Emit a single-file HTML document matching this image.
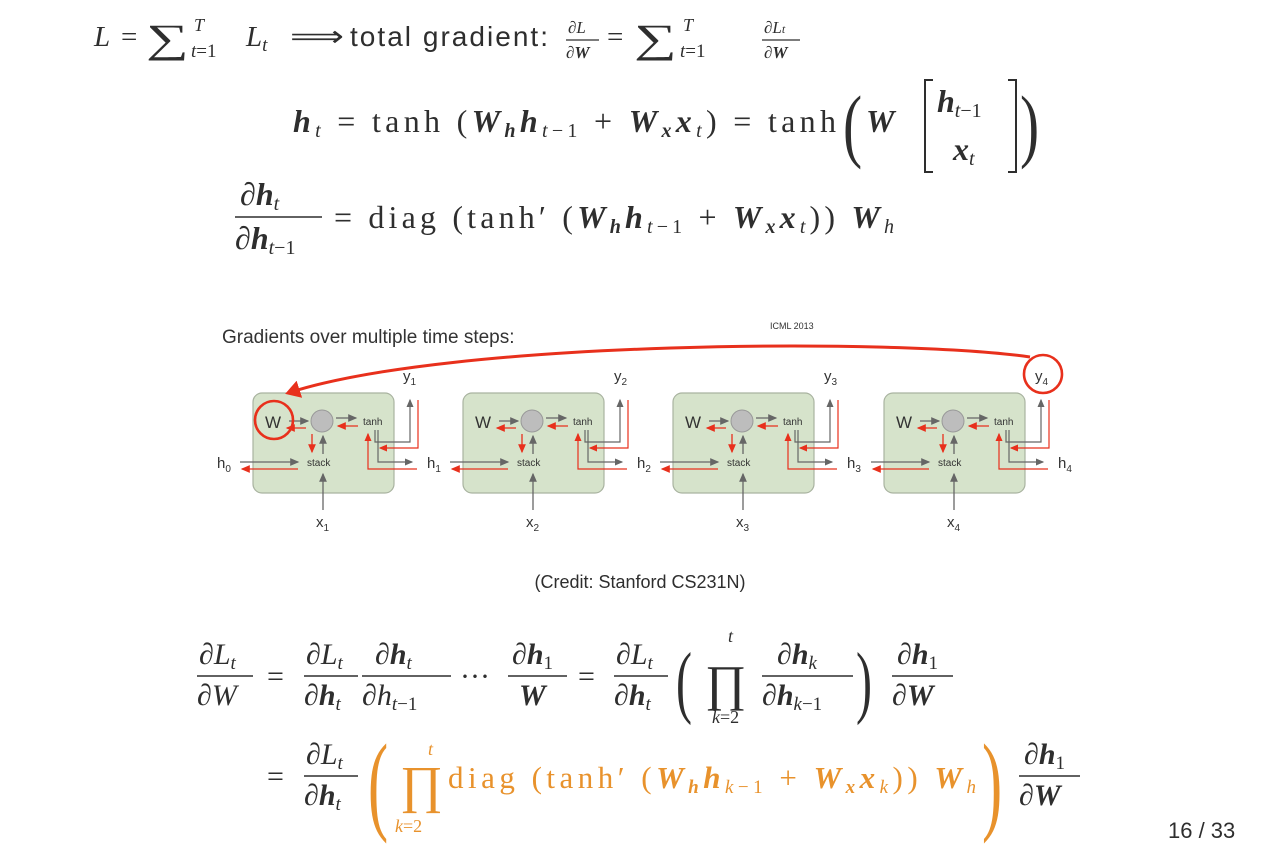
<!DOCTYPE html>
<html><head><meta charset="utf-8"><style>
html,body{margin:0;padding:0;background:#fff}
svg{display:block}
.m{font-family:"Liberation Serif",serif;fill:#2e2e2e}
.i{font-style:italic}
.b{font-weight:bold;font-style:italic}
.s{font-family:"Liberation Sans",sans-serif;fill:#2e2e2e}
.o{fill:#e8922c}
.d{font-family:"Liberation Sans",sans-serif;fill:#333}
</style></head><body>
<svg width="1271" height="848" viewBox="0 0 1271 848">
<g class="m" font-size="29">
 <text x="94" y="46" class="i">L</text>
 <text x="121" y="46">=</text>
 <text x="146" y="52" font-size="40" transform="translate(146 0) scale(1.5 1) translate(-146 0)">∑</text>
 <text x="194" y="31" font-size="18" class="i">T</text>
 <text x="191" y="57" font-size="19"><tspan class="i">t</tspan>=1</text>
 <text x="246" y="46"><tspan class="i">L</tspan><tspan font-size="19" class="i" dy="5">t</tspan></text>
 <text x="290" y="46" textLength="54" lengthAdjust="spacingAndGlyphs">⟹</text>
 <text x="350" y="46" class="s" font-size="28" textLength="198" lengthAdjust="spacing">total gradient:</text>
 <text x="568" y="33" font-size="17" class="i">∂L</text>
 <line x1="566" y1="40" x2="599" y2="40" stroke="#2e2e2e" stroke-width="1.2"/>
 <text x="566" y="58" font-size="17"><tspan>∂</tspan><tspan class="b">W</tspan></text>
 <text x="607" y="46">=</text>
 <text x="634" y="52" font-size="40" transform="translate(634 0) scale(1.5 1) translate(-634 0)">∑</text>
 <text x="683" y="31" font-size="18" class="i">T</text>
 <text x="680" y="57" font-size="19"><tspan class="i">t</tspan>=1</text>
 <text x="764" y="33" font-size="17"><tspan class="i">∂L</tspan><tspan font-size="12" class="i">t</tspan></text>
 <line x1="762" y1="40" x2="800" y2="40" stroke="#2e2e2e" stroke-width="1.2"/>
 <text x="764" y="58" font-size="17"><tspan>∂</tspan><tspan class="b">W</tspan></text>
</g>
<g class="m" font-size="32">
 <text x="293" y="132" textLength="543" lengthAdjust="spacing"><tspan class="b">h</tspan><tspan font-size="20" class="i" dy="5">t</tspan><tspan dy="-5"> = tanh (</tspan><tspan class="b">W</tspan><tspan class="b" font-size="20" dy="5">h</tspan><tspan class="b" dy="-5">h</tspan><tspan font-size="20" dy="5"><tspan class="i">t</tspan>−1</tspan><tspan dy="-5"> + </tspan><tspan class="b">W</tspan><tspan class="b" font-size="20" dy="5">x</tspan><tspan class="b" dy="-5">x</tspan><tspan font-size="20" class="i" dy="5">t</tspan><tspan dy="-5">) = tanh</tspan></text>
 <text x="843" y="152" font-size="82" transform="translate(843 0) scale(0.7 1) translate(-843 0)">(</text>
 <text x="866" y="132" class="b">W</text>
 <path d="M933 80 h-8 v92 h8 M1008 80 h8 v92 h-8" fill="none" stroke="#2e2e2e" stroke-width="2"/>
 <text x="937" y="112"><tspan class="b">h</tspan><tspan font-size="20" dy="5"><tspan class="i">t</tspan>−1</tspan></text>
 <text x="953" y="160"><tspan class="b">x</tspan><tspan font-size="20" class="i" dy="5">t</tspan></text>
 <text x="1020" y="152" font-size="82" transform="translate(1020 0) scale(0.7 1) translate(-1020 0)">)</text>
</g>
<g class="m" font-size="32">
 <text x="240" y="205"><tspan>∂</tspan><tspan class="b">h</tspan><tspan font-size="20" class="i" dy="5">t</tspan></text>
 <line x1="235" y1="217" x2="322" y2="217" stroke="#2e2e2e" stroke-width="1.4"/>
 <text x="235" y="249"><tspan>∂</tspan><tspan class="b">h</tspan><tspan font-size="20" dy="5"><tspan class="i">t</tspan>−1</tspan></text>
 <text x="334" y="228" textLength="560" lengthAdjust="spacing"><tspan>= diag (tanh′ (</tspan><tspan class="b">W</tspan><tspan class="b" font-size="20" dy="5">h</tspan><tspan class="b" dy="-5">h</tspan><tspan font-size="20" dy="5"><tspan class="i">t</tspan>−1</tspan><tspan dy="-5"> + </tspan><tspan class="b">W</tspan><tspan class="b" font-size="20" dy="5">x</tspan><tspan class="b" dy="-5">x</tspan><tspan font-size="20" class="i" dy="5">t</tspan><tspan dy="-5">)) </tspan><tspan class="b">W</tspan><tspan class="i" font-size="20" dy="5">h</tspan></text>
</g>

<g>
 <text x="222" y="343" class="d" font-size="19">Gradients over multiple time steps:</text>
 <text x="770" y="329" class="d" font-size="9">ICML 2013</text>
 <defs>
  <marker id="ag" markerWidth="8" markerHeight="8" refX="6" refY="3" orient="auto"><path d="M0,0 L7,3 L0,6z" fill="#666"/></marker>
  <marker id="ar" markerWidth="8" markerHeight="8" refX="6" refY="3" orient="auto"><path d="M0,0 L7,3 L0,6z" fill="#e8301c"/></marker>
  <marker id="abig" markerWidth="6" markerHeight="6" refX="4" refY="3" orient="auto"><path d="M0,0 L5,3 L0,6z" fill="#e8301c"/></marker>
 </defs>
 <g id="cell">
  <rect x="253" y="393" width="141" height="100" rx="9" fill="#d6e3cb" stroke="#a9b3a0" stroke-width="1.2"/>
  <text x="265" y="428" class="d" font-size="17">W</text>
  <line x1="289" y1="421" x2="308" y2="421" stroke="#666" stroke-width="1.3" marker-end="url(#ag)"/>
  <line x1="306" y1="428" x2="287" y2="428" stroke="#e8301c" stroke-width="1.3" marker-end="url(#ar)"/>
  <circle cx="322" cy="421" r="11" fill="#bdbdbd" stroke="#999"/>
  <line x1="336" y1="418" x2="356" y2="418" stroke="#666" stroke-width="1.3" marker-end="url(#ag)"/>
  <line x1="358" y1="426" x2="338" y2="426" stroke="#e8301c" stroke-width="1.3" marker-end="url(#ar)"/>
  <text x="363" y="425" class="d" font-size="10">tanh</text>
  <line x1="312" y1="434" x2="312" y2="452" stroke="#e8301c" stroke-width="1.3" marker-end="url(#ar)"/>
  <line x1="323" y1="454" x2="323" y2="436" stroke="#666" stroke-width="1.3" marker-end="url(#ag)"/>
  <text x="307" y="466" class="d" font-size="10">stack</text>
  <line x1="323" y1="510" x2="323" y2="474" stroke="#666" stroke-width="1.3" marker-end="url(#ag)"/>
  <line x1="240" y1="462" x2="298" y2="462" stroke="#666" stroke-width="1.3" marker-end="url(#ag)"/>
  <line x1="298" y1="469" x2="242" y2="469" stroke="#e8301c" stroke-width="1.3" marker-end="url(#ar)"/>
  <path d="M375 430 V442 H410 V400" fill="none" stroke="#666" stroke-width="1.2" marker-end="url(#ag)"/>
  <path d="M418 400 V448 H380" fill="none" stroke="#e8301c" stroke-width="1.2" marker-end="url(#ar)"/>
  <path d="M378 430 V462 H412" fill="none" stroke="#666" stroke-width="1.2" marker-end="url(#ag)"/>
  <path d="M417 469 H368 V434" fill="none" stroke="#e8301c" stroke-width="1.2" marker-end="url(#ar)"/>
 </g>
 <use href="#cell" x="210"/>
 <use href="#cell" x="420"/>
 <use href="#cell" x="631"/>
 <g class="d" font-size="15">
  <text x="217" y="468">h<tspan font-size="10" dy="4">0</tspan></text>
  <text x="427" y="468">h<tspan font-size="10" dy="4">1</tspan></text>
  <text x="637" y="468">h<tspan font-size="10" dy="4">2</tspan></text>
  <text x="847" y="468">h<tspan font-size="10" dy="4">3</tspan></text>
  <text x="1058" y="468">h<tspan font-size="10" dy="4">4</tspan></text>
  <text x="316" y="527">x<tspan font-size="10" dy="4">1</tspan></text>
  <text x="526" y="527">x<tspan font-size="10" dy="4">2</tspan></text>
  <text x="736" y="527">x<tspan font-size="10" dy="4">3</tspan></text>
  <text x="947" y="527">x<tspan font-size="10" dy="4">4</tspan></text>
  <text x="403" y="381">y<tspan font-size="10" dy="4">1</tspan></text>
  <text x="614" y="381">y<tspan font-size="10" dy="4">2</tspan></text>
  <text x="824" y="381">y<tspan font-size="10" dy="4">3</tspan></text>
  <text x="1035" y="381">y<tspan font-size="10" dy="4">4</tspan></text>
 </g>
 <circle cx="274" cy="420" r="19" fill="none" stroke="#e8301c" stroke-width="2.6"/>
 <circle cx="1043" cy="374" r="19" fill="none" stroke="#e8301c" stroke-width="2.6"/>
 <path d="M1030 357 C900 338 450 340 288 393" fill="none" stroke="#e8301c" stroke-width="3" marker-end="url(#abig)"/>
</g>
<text x="640" y="588" text-anchor="middle" class="s" font-size="18">(Credit: Stanford CS231N)</text>

<g class="m" font-size="30">
 <text x="199" y="664"><tspan>∂</tspan><tspan class="i">L</tspan><tspan font-size="19" class="i" dy="5">t</tspan></text>
 <line x1="197" y1="676" x2="253" y2="676" stroke="#2e2e2e" stroke-width="1.4"/>
 <text x="197" y="705"><tspan>∂</tspan><tspan class="i">W</tspan></text>
 <text x="267" y="686">=</text>
 <text x="306" y="664"><tspan>∂</tspan><tspan class="i">L</tspan><tspan font-size="19" class="i" dy="5">t</tspan></text>
 <line x1="304" y1="676" x2="358" y2="676" stroke="#2e2e2e" stroke-width="1.4"/>
 <text x="304" y="705"><tspan>∂</tspan><tspan class="b">h</tspan><tspan font-size="19" class="i" dy="5">t</tspan></text>
 <text x="375" y="664"><tspan>∂</tspan><tspan class="b">h</tspan><tspan font-size="19" class="i" dy="5">t</tspan></text>
 <line x1="362" y1="676" x2="451" y2="676" stroke="#2e2e2e" stroke-width="1.4"/>
 <text x="362" y="705"><tspan>∂</tspan><tspan class="i">h</tspan><tspan font-size="19" dy="5"><tspan class="i">t</tspan>−1</tspan></text>
 <text x="460" y="686">···</text>
 <text x="512" y="664"><tspan>∂</tspan><tspan class="b">h</tspan><tspan font-size="19" dy="5">1</tspan></text>
 <line x1="508" y1="676" x2="567" y2="676" stroke="#2e2e2e" stroke-width="1.4"/>
 <text x="519" y="705" class="b">W</text>
 <text x="578" y="686">=</text>
 <text x="616" y="664"><tspan>∂</tspan><tspan class="i">L</tspan><tspan font-size="19" class="i" dy="5">t</tspan></text>
 <line x1="614" y1="676" x2="668" y2="676" stroke="#2e2e2e" stroke-width="1.4"/>
 <text x="614" y="705"><tspan>∂</tspan><tspan class="b">h</tspan><tspan font-size="19" class="i" dy="5">t</tspan></text>
 <text x="676" y="708" font-size="80" transform="translate(676 0) scale(0.6 1) translate(-676 0)">(</text>
 <text x="705" y="700" font-size="50">∏</text>
 <text x="728" y="642" font-size="18" class="i">t</text>
 <text x="712" y="723" font-size="18"><tspan class="i">k</tspan>=2</text>
 <text x="777" y="664"><tspan>∂</tspan><tspan class="b">h</tspan><tspan font-size="19" class="i" dy="5">k</tspan></text>
 <line x1="762" y1="676" x2="853" y2="676" stroke="#2e2e2e" stroke-width="1.4"/>
 <text x="762" y="705"><tspan>∂</tspan><tspan class="b">h</tspan><tspan font-size="19" dy="5"><tspan class="i">k</tspan>−1</tspan></text>
 <text x="856" y="708" font-size="80" transform="translate(856 0) scale(0.6 1) translate(-856 0)">)</text>
 <text x="897" y="664"><tspan>∂</tspan><tspan class="b">h</tspan><tspan font-size="19" dy="5">1</tspan></text>
 <line x1="892" y1="676" x2="953" y2="676" stroke="#2e2e2e" stroke-width="1.4"/>
 <text x="892" y="705"><tspan>∂</tspan><tspan class="b">W</tspan></text>
</g>
<g class="m" font-size="30">
 <text x="267" y="786">=</text>
 <text x="306" y="764"><tspan>∂</tspan><tspan class="i">L</tspan><tspan font-size="19" class="i" dy="5">t</tspan></text>
 <line x1="304" y1="776" x2="358" y2="776" stroke="#2e2e2e" stroke-width="1.4"/>
 <text x="304" y="805"><tspan>∂</tspan><tspan class="b">h</tspan><tspan font-size="19" class="i" dy="5">t</tspan></text>
 <g class="o">
  <text x="368" y="820" font-size="110" class="o" transform="translate(368 0) scale(0.55 1) translate(-368 0)">(</text>
  <text x="400" y="802" font-size="52" class="o">∏</text>
  <text x="428" y="755" font-size="18" class="i o">t</text>
  <text x="395" y="832" font-size="18" class="o"><tspan class="i">k</tspan>=2</text>
  <text x="448" y="788" class="o" font-size="31" textLength="528" lengthAdjust="spacing"><tspan>diag (tanh′ (</tspan><tspan class="b">W</tspan><tspan class="b" font-size="19" dy="5">h</tspan><tspan class="b" dy="-5">h</tspan><tspan font-size="19" dy="5"><tspan class="i">k</tspan>−1</tspan><tspan dy="-5"> + </tspan><tspan class="b">W</tspan><tspan class="b" font-size="19" dy="5">x</tspan><tspan class="b" dy="-5">x</tspan><tspan font-size="19" class="i" dy="5">k</tspan><tspan dy="-5">)) </tspan><tspan class="b">W</tspan><tspan class="i" font-size="19" dy="5">h</tspan></text>
  <text x="982" y="820" font-size="110" class="o" transform="translate(982 0) scale(0.55 1) translate(-982 0)">)</text>
 </g>
 <text x="1024" y="764"><tspan>∂</tspan><tspan class="b">h</tspan><tspan font-size="19" dy="5">1</tspan></text>
 <line x1="1019" y1="776" x2="1080" y2="776" stroke="#2e2e2e" stroke-width="1.4"/>
 <text x="1019" y="805"><tspan>∂</tspan><tspan class="b">W</tspan></text>
</g>
<text x="1168" y="838" class="s" font-size="22">16 / 33</text>
</svg>
</body></html>
